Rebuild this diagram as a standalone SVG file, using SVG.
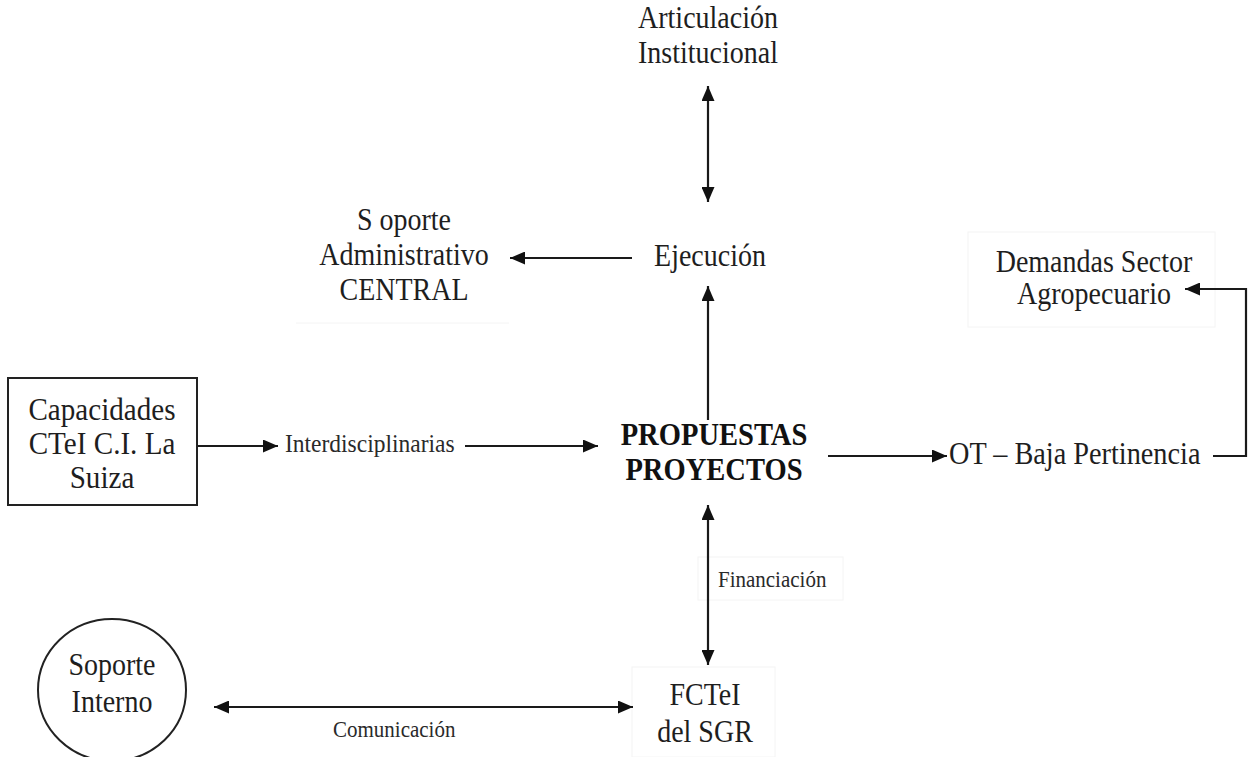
<svg xmlns="http://www.w3.org/2000/svg" width="1251" height="757" viewBox="0 0 1251 757">
  <style>
    .t { font-family: "Liberation Serif", "Times New Roman", serif; font-size: 28px; fill: #1e1e1e; text-anchor: middle; }
    .b { font-weight: bold; fill: #111; }
    .s { font-family: "Liberation Serif", "Times New Roman", serif; font-size: 21px; fill: #2a2a2a; }
    .c { fill: none; stroke: #1a1a1a; stroke-width: 2.2; }
    .frame { fill: none; stroke: #f4f4f4; stroke-width: 1; }
    .box { fill: #fff; stroke: #222; stroke-width: 2; }
  </style>
  <defs>
    <marker id="ah" viewBox="0 0 15 13" refX="15" refY="6.5" markerWidth="15" markerHeight="13" markerUnits="userSpaceOnUse" orient="auto-start-reverse">
      <path d="M0,0 L15,6.5 L0,13 z" fill="#111"/>
    </marker>
  </defs>
  <rect width="1251" height="757" fill="#fff"/>

  <!-- faint text-frame edges -->
  <g id="frames">
    <line class="frame" x1="296" y1="323" x2="509" y2="323"/>
    <rect class="frame" x="968" y="232" width="247" height="95"/>
    <rect class="frame" x="698" y="557" width="145" height="43"/>
    <rect class="frame" x="632" y="667" width="143" height="90"/>
  </g>

  <g id="connectors">
    <line class="c" x1="708" y1="86" x2="708" y2="202" marker-start="url(#ah)" marker-end="url(#ah)"/>
    <line class="c" x1="708" y1="420" x2="708" y2="286" marker-end="url(#ah)"/>
    <line class="c" x1="632" y1="258" x2="510" y2="258" marker-end="url(#ah)"/>
    <line class="c" x1="197" y1="446" x2="278" y2="446" marker-end="url(#ah)"/>
    <line class="c" x1="465" y1="446" x2="598" y2="446" marker-end="url(#ah)"/>
    <line class="c" x1="828" y1="456" x2="947" y2="456" marker-end="url(#ah)"/>
    <polyline class="c" points="1213,456 1246,456 1246,289 1185,289" marker-end="url(#ah)"/>
    <line class="c" x1="708" y1="505" x2="708" y2="665" marker-start="url(#ah)" marker-end="url(#ah)"/>
    <line class="c" x1="214" y1="707" x2="633" y2="707" marker-start="url(#ah)" marker-end="url(#ah)"/>
  </g>

  <!-- labels are drawn slightly taller than wide -->
  <g id="articulacion">
    <text class="t" transform="translate(708,28) scale(1,1.12)">Articulación</text>
    <text class="t" transform="translate(708,63) scale(1,1.12)">Institucional</text>
  </g>

  <g id="ejecucion">
    <text class="t" transform="translate(710,266) scale(1,1.12)">Ejecución</text>
  </g>

  <g id="soporte-administrativo">
    <text class="t" transform="translate(404,230) scale(1,1.12)">S oporte</text>
    <text class="t" transform="translate(404,265) scale(1,1.12)">Administrativo</text>
    <text class="t" transform="translate(404,300) scale(1,1.12)">CENTRAL</text>
  </g>

  <g id="demandas">
    <text class="t" transform="translate(1094,272) scale(1,1.12)">Demandas Sector</text>
    <text class="t" transform="translate(1094,304) scale(1,1.12)">Agropecuario</text>
  </g>

  <g id="capacidades">
    <rect class="box" x="8" y="378" width="189" height="127"/>
    <text class="t" transform="translate(102,420) scale(1.04,1.12)">Capacidades</text>
    <text class="t" transform="translate(102,454) scale(1.04,1.12)">CTeI C.I. La</text>
    <text class="t" transform="translate(102,488) scale(1.04,1.12)">Suiza</text>
  </g>

  <g id="interdisciplinarias">
    <text class="s" transform="translate(285,452) scale(1,1.1)" style="font-size:23.5px">Interdisciplinarias</text>
  </g>

  <g id="propuestas">
    <text class="t b" transform="translate(714,445) scale(1.02,1.12)">PROPUESTAS</text>
    <text class="t b" transform="translate(714,480) scale(1.02,1.12)">PROYECTOS</text>
  </g>

  <g id="ot">
    <text class="t" transform="translate(949,464) scale(1.01,1.12)" style="text-anchor:start">OT – Baja Pertinencia</text>
  </g>

  <g id="financiacion">
    <text class="s" transform="translate(718,587) scale(1,1.1)">Financiación</text>
  </g>

  <g id="fctei">
    <text class="t" transform="translate(705,705) scale(1,1.12)">FCTeI</text>
    <text class="t" transform="translate(705,742) scale(1,1.12)">del SGR</text>
  </g>

  <g id="soporte-interno">
    <ellipse cx="112" cy="690" rx="74" ry="71" fill="#fff" stroke="#222" stroke-width="2"/>
    <text class="t" transform="translate(112,675) scale(1,1.12)">Soporte</text>
    <text class="t" transform="translate(112,712) scale(1,1.12)">Interno</text>
  </g>

  <g id="comunicacion">
    <text class="s" transform="translate(333,737) scale(1,1.1)">Comunicación</text>
  </g>
</svg>
